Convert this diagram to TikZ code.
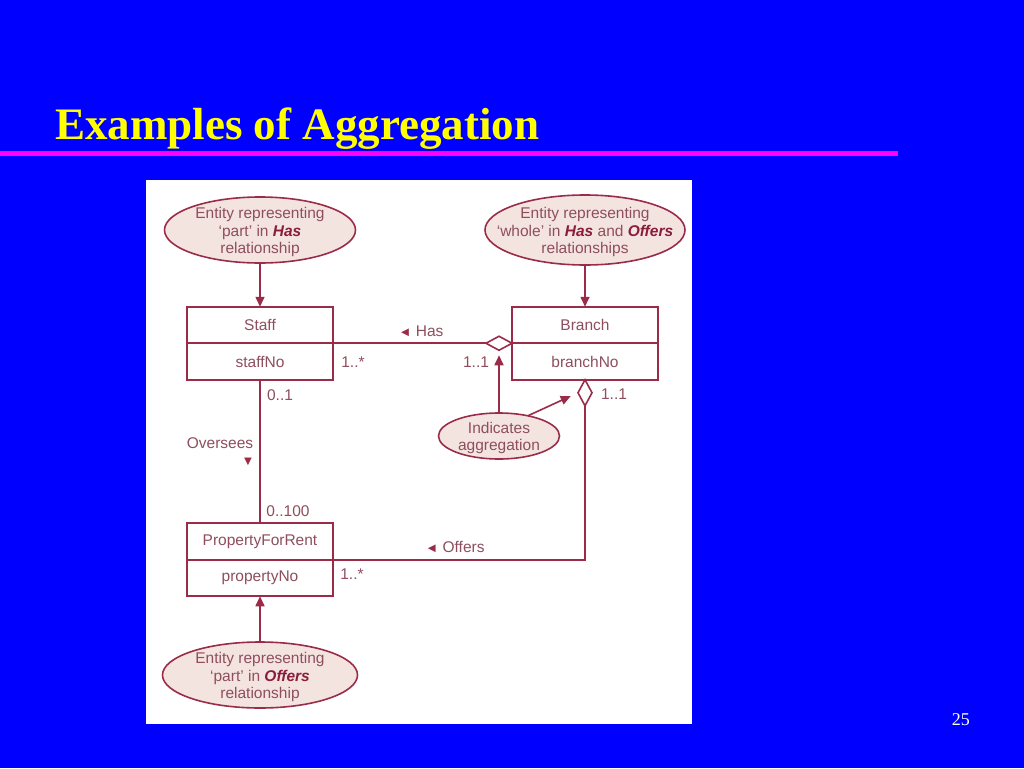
\documentclass[tikz,border=0pt]{standalone}
\usepackage{fontspec}
\setmainfont{Liberation Serif}
\newfontfamily\umlfont{Liberation Sans}
\usepackage{xcolor}
\definecolor{slideBlue}{HTML}{0000FF}
\definecolor{slideYellow}{HTML}{FFFF00}
\definecolor{slideMagenta}{HTML}{FF00FF}
\definecolor{umlLine}{HTML}{9A2C4A}
\definecolor{umlText}{HTML}{8E4E5E}
\definecolor{umlBold}{HTML}{8A1C3C}
\definecolor{umlFill}{HTML}{F4E4E0}
\usepackage{tikz}
\usetikzlibrary{shapes.geometric,arrows.meta,positioning}
\tikzset{class/.style={draw=umlLine, line width=1.6pt, fill=white, minimum width=146pt, minimum height=36.5pt, inner sep=0pt, outer sep=0pt, text=umlText, font=\umlfont\fontsize{15.5}{17.5}\selectfont}}
\tikzset{note/.style={ellipse, draw=umlLine, line width=1.6pt, fill=umlFill, inner sep=0pt, outer sep=0pt}}
\tikzset{note text/.style={align=center, text=umlText, inner sep=0pt, yshift=-2pt, font=\umlfont\fontsize{15.5}{17.5}\selectfont}}
\tikzset{agg/.style={diamond, draw=umlLine, line width=1.6pt, fill=white, inner sep=0pt, outer sep=0pt}}
\tikzset{link/.style={draw=umlLine, line width=1.6pt}}
\tikzset{pointer/.style={link, -{Triangle[length=10pt,width=9pt]}}}
\tikzset{mult/.style={text=umlText, inner sep=0pt, font=\umlfont\fontsize{15.5}{17.5}\selectfont}}
\newcommand{\rel}[1]{\textcolor{umlBold}{\textbf{\textit{#1}}}}
\newcommand{\dirmark}[1]{\textcolor{umlLine}{\fontsize{13}{13}\selectfont #1}}

\begin{document}
\begin{tikzpicture}[x=1pt, y=-1pt]
\useasboundingbox (0,0) rectangle (1024,768);
%--------------------
% the slide
%--------------------
\fill[slideBlue] (0,0) rectangle (1024,768);
\node[anchor=base west, inner sep=0pt, text=slideYellow, font=\bfseries\fontsize{45}{45}\selectfont](title) at (55,139){Examples of Aggregation};
\draw[slideMagenta, line width=5pt] (0,153) -- (898,153);
\node[anchor=base east, inner sep=0pt, text=white, font=\fontsize{18}{18}\selectfont](pagenr) at (970,725){25};
\fill[white] (146,180) rectangle (692,724);

%--------------------
% the classes
%--------------------
\node[class](staff) at (260,325){Staff};
\node[class](staffno)[below=0pt of staff]{staffNo};
\node[class](branch) at (585,325){Branch};
\node[class](branchno)[below=0pt of branch]{branchNo};
\node[class](property) at (260,541.5){PropertyForRent};
\node[class](propertyno)[below=0pt of property]{propertyNo};

%--------------------
% the aggregations
%--------------------
\node[agg, minimum width=26pt, minimum height=14pt, anchor=east](hasagg) at (branch.south west){};
\node[agg, minimum width=14pt, minimum height=26pt, anchor=north](offersagg) at (branchno.south){};
\draw[link] (staff.south east) -- (hasagg.west);
\draw[link] (offersagg.south) |- (property.south east);
\draw[link] (staffno.south) -- (property.north);

\node[mult](hasname) at (421,331){\dirmark{◄} Has};
\node[mult](offersname) at (455,547){\dirmark{◄} Offers};
\node[mult](overseesname) at (220,443){Oversees};
\node[mult](overseesdir) at (248,462){\dirmark{▼}};
\node[mult](staffmany) at (353,362){1..*};
\node[mult](branchone) at (476,362){1..1};
\node[mult](supervisor) at (280,395){0..1};
\node[mult](supervised) at (288,511){0..100};
\node[mult](propmany) at (352,574){1..*};
\node[mult](offersone) at (614,394){1..1};

%--------------------
% the notes
%--------------------
\node[note, minimum width=191pt, minimum height=66pt, label={[note text]center:{Entity representing\\‘part’ in \rel{Has}\\relationship}}](parthas) at (260,230){};
\node[note, minimum width=200pt, minimum height=70pt, label={[note text]center:{Entity representing\\‘whole’ in \rel{Has} and \rel{Offers}\\relationships}}](whole) at (585,230){};
\node[note, minimum width=121pt, minimum height=46pt, label={[note text]center:{Indicates\\aggregation}}](indicates) at (499,436){};
\node[note, minimum width=195pt, minimum height=66pt, label={[note text]center:{Entity representing\\‘part’ in \rel{Offers}\\relationship}}](partoffers) at (260,675){};

\draw[pointer] (parthas) -- (staff);
\draw[pointer] (whole) -- (branch);
\draw[pointer] (partoffers) -- (propertyno);
\draw[pointer, shorten >=5pt] (indicates.north) -- (hasagg.south);
\draw[pointer, shorten >=8pt] (indicates.35) -- (offersagg.west);
\end{tikzpicture}
\end{document}
